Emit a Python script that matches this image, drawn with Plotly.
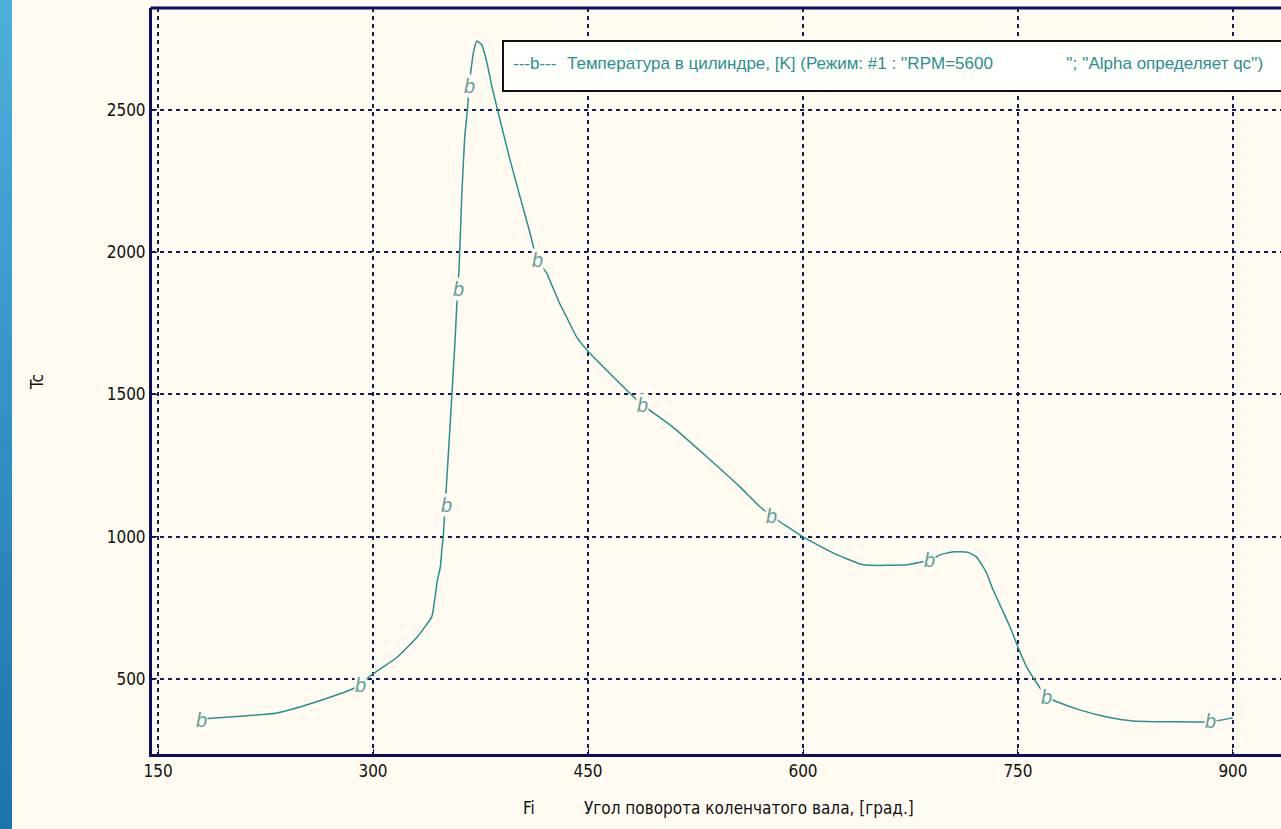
import plotly.graph_objects as go

# ---- data ----
fi = [180, 212, 233, 254, 275, 284, 291, 299, 317, 331, 341, 342, 343, 345, 347, 348, 349,
      357, 359, 360, 362, 364, 366, 367, 370, 372.5, 376, 379.5, 383, 388.6, 395.6, 402.6,
      409.5, 414.4, 421, 430, 435, 442, 451, 467.5, 479, 488, 509, 533, 556, 570, 579, 600,
      621, 642, 672.6, 688.6, 695.6, 705, 715, 721, 728, 732.6, 739, 744.4, 750, 756, 763,
      770, 779, 793, 812, 830, 858, 884, 900]
tc = [359, 370, 380, 409, 444, 461, 479, 514, 577, 648, 718, 742, 778, 848, 894, 953, 999,
      1667, 1867, 1938, 2208, 2405, 2507, 2581, 2700, 2742, 2728, 2665, 2581, 2465, 2324, 2194,
      2068, 1973, 1927, 1822, 1772, 1702, 1646, 1562, 1505, 1463, 1386, 1280, 1175, 1105, 1069, 999,
      943, 901, 901, 918, 936, 947, 945, 929, 873, 813, 743, 683, 612, 542, 486,
      437, 416, 391, 366, 352, 349, 349, 363]

marker_fi = [180, 291, 351, 359.3, 367, 415, 488, 578, 688.6, 770, 884]
marker_tc = [356, 479, 1112, 1871, 2584, 1973, 1463, 1073, 918, 437, 352]

x_ticks = [150, 300, 450, 600, 750, 900]
y_ticks = [500, 1000, 1500, 2000, 2500]

series_name = "Температура в цилиндре, [K] (Режим: #1 : ''RPM=5600"
series_tail = "''; ''Alpha определяет qc'')"
x_title = "Угол поворота коленчатого вала, [град.]"
x_short = "Fi"
y_title = "Tc"

# ---- style ----
BG = "#FFFBF0"
NAVY = "#0E0E5E"
GRID = "#1A1A58"
TEAL = "#2A8F8E"
BTEAL = "#5FA09E"
NARROW = "DejaVu Sans Condensed, Liberation Sans Narrow, sans-serif"
REG = "Liberation Sans, Arial, sans-serif"

W, H = 1281, 829
ML, MR, MT, MB = 152, 0, 8, 75
PW, PH = W - ML - MR, H - MT - MB


def px_x(p):
    return (p - ML) / PW


def px_y(p):
    return (H - MB - p) / PH


fig = go.Figure()
fig.add_trace(go.Scatter(x=fi, y=tc, mode="lines",
                         line=dict(color=TEAL, width=1.5, shape="spline", smoothing=0.4),
                         showlegend=False, hoverinfo="skip"))

annotations = []
for mx, my in zip(marker_fi, marker_tc):
    annotations.append(dict(x=mx, y=my, xref="x", yref="y", text="<i>b</i>", showarrow=False,
                            font=dict(family=REG, size=20, color=BTEAL), bgcolor=BG,
                            borderpad=0, xanchor="center", yanchor="middle"))

LF = dict(family=REG, size=17, color=TEAL)
AF = dict(family=NARROW, size=17, color="#111")
annotations += [
    dict(x=px_x(511), y=px_y(63), xref="paper", yref="paper", text="---b---", showarrow=False,
         xanchor="left", yanchor="middle", font=LF),
    dict(x=px_x(565), y=px_y(63), xref="paper", yref="paper", text=series_name, showarrow=False,
         xanchor="left", yanchor="middle", font=LF),
    dict(x=px_x(1064), y=px_y(63), xref="paper", yref="paper", text=series_tail, showarrow=False,
         xanchor="left", yanchor="middle", font=LF),
    dict(x=px_x(529), y=px_y(808), xref="paper", yref="paper", text=x_short, showarrow=False,
         xanchor="center", yanchor="middle", font=AF),
    dict(x=px_x(582), y=px_y(808), xref="paper", yref="paper", text=x_title, showarrow=False,
         xanchor="left", yanchor="middle", font=AF),
    dict(x=px_x(37), y=px_y(382), xref="paper", yref="paper", text=y_title, showarrow=False,
         textangle=-90, xanchor="center", yanchor="middle", font=AF),
]

shapes = []
# blue strip on the left edge (vertical gradient as bands)
n = 30
c0 = (0x4B, 0xAF, 0xDB)
c1 = (0x1E, 0x74, 0xAD)
for i in range(n):
    t = i / (n - 1)
    col = "rgb(%d,%d,%d)" % tuple(round(a + (b - a) * t) for a, b in zip(c0, c1))
    shapes.append(dict(type="rect", xref="paper", yref="paper",
                       x0=px_x(0), x1=px_x(12), y0=px_y(H * (i + 1) / n + 1), y1=px_y(H * i / n),
                       fillcolor=col, line=dict(width=0), layer="below"))
# top border of the plot frame
shapes.append(dict(type="line", xref="paper", yref="paper", x0=px_x(150.5), x1=px_x(1290),
                   y0=1, y1=1, line=dict(color=NAVY, width=3)))
# legend box
shapes.append(dict(type="rect", xref="paper", yref="paper", x0=px_x(503), x1=px_x(1295),
                   y0=px_y(91), y1=px_y(41), fillcolor="#FFFFFC",
                   line=dict(color="#111111", width=2)))

fig.update_layout(
    width=W, height=H,
    margin=dict(l=ML, r=MR, t=MT, b=MB, pad=0),
    paper_bgcolor=BG, plot_bgcolor=BG,
    showlegend=False,
    annotations=annotations,
    shapes=shapes,
    xaxis=dict(range=[145.8, 933.5], tickvals=x_ticks, ticktext=[str(v) for v in x_ticks],
               showgrid=True, gridcolor=GRID, gridwidth=1.5, griddash="4px,4px",
               showline=True, linecolor=NAVY, linewidth=3, zeroline=False,
               ticks="inside", ticklen=5, tickcolor=NAVY, tickwidth=1,
               tickfont=AF),
    yaxis=dict(range=[236, 2858], tickvals=y_ticks, ticktext=[str(v) for v in y_ticks],
               showgrid=True, gridcolor=GRID, gridwidth=1.5, griddash="4px,4px",
               showline=True, linecolor=NAVY, linewidth=3, zeroline=False,
               ticks="inside", ticklen=5, tickcolor=NAVY, tickwidth=1,
               tickfont=AF),
)

fig.write_html("out.html", config={"displayModeBar": False},
               post_script="document.body.style.margin='0';document.body.style.overflow='hidden';")
